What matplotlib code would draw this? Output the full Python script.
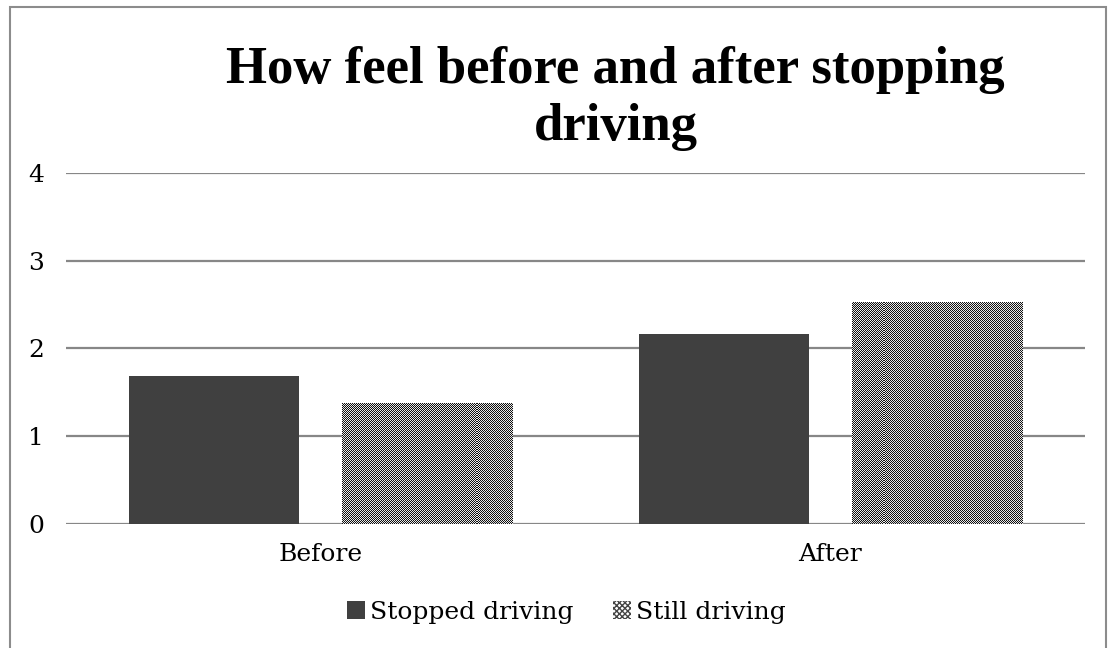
import numpy as np
import matplotlib
matplotlib.use("Agg")
import matplotlib.pyplot as plt
from matplotlib.patches import Patch, Rectangle
from matplotlib.colors import ListedColormap

# dados
categorias = ["Before", "After"]
series = ["Stopped driving", "Still driving"]
parou = [1.68, 2.16]
ainda = [1.375, 2.525]
ticks_y = [0, 1, 2, 3, 4]

cor_escura = "#404040"
cor_grade = "#878787"
fonte = "DejaVu Serif"

fig = plt.figure(figsize=(11.19, 6.48), dpi=100)
ax = fig.add_axes([0.059, 0.1914, 0.9106, 0.5421])

x = np.arange(len(categorias))
largura = 0.334
desloc = (largura + 0.084) / 2

b1 = ax.bar(x - desloc, parou, largura, color=cor_escura, zorder=3)
b2 = ax.bar(x + desloc, ainda, largura, color="white", zorder=3)

ax.set_xlim(-0.5, len(categorias) - 0.5)
ax.set_ylim(0, 4)

# textura xadrez para a segunda série
h, w = 351, 1019
tabuleiro = (np.indices((h, w)).sum(axis=0) % 2).astype(float)
cmap_xadrez = ListedColormap(["#111111", "#e8e8e8"])
for barra in b2:
    img = ax.imshow(tabuleiro, cmap=cmap_xadrez, extent=(-0.5, len(categorias) - 0.5, 0, 4),
                    aspect="auto", interpolation="nearest", zorder=4, vmin=0, vmax=1)
    img.set_clip_path(barra)

ax.set_yticks(ticks_y)
ax.set_xticks(x)
ax.set_xticklabels(categorias, fontsize=18, family=fonte)
ax.set_yticklabels([str(t) for t in ticks_y], fontsize=18, family=fonte)
ax.tick_params(length=0)
ax.tick_params(axis="x", pad=14)
ax.tick_params(axis="y", pad=16)
ax.yaxis.grid(True, color=cor_grade, linewidth=1.6, zorder=0)
ax.set_axisbelow(True)
for s in ax.spines.values():
    s.set_visible(False)

fig.text(0.55, 0.848, "How feel before and after stopping\ndriving", ha="center", va="center",
         fontsize=38, fontweight="bold", family="Liberation Serif", linespacing=1.22)

handles = [Patch(facecolor=cor_escura),
           Patch(facecolor="white", edgecolor="#444444", hatch="xxxxxx", linewidth=0)]
fig.legend(handles, series, loc="center", bbox_to_anchor=(0.506, 0.055), ncol=2, frameon=False,
           prop={"family": fonte, "size": 18}, handlelength=0.7, handleheight=0.7,
           handletextpad=0.2, columnspacing=1.6)

fig.patches.append(Rectangle((10 / 1119, -0.05), 1106 / 1119 - 10 / 1119, 1.05 - 7 / 648,
                             transform=fig.transFigure, fill=False, edgecolor="#8c8c8c", linewidth=1.5))

fig.savefig("out.png", dpi=100)
